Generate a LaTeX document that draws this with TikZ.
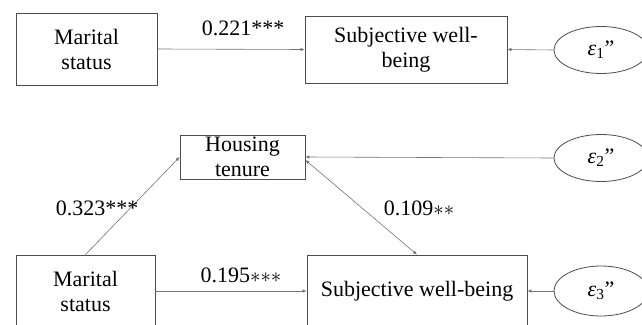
\documentclass[tikz,border=0pt]{standalone}
\usepackage{fontspec}
\setmainfont{Liberation Serif}
\usetikzlibrary{shapes.geometric,arrows.meta}

\newcommand{\errlabel}[1]{{\itshape ε}\textsubscript{#1}''}

\begin{document}
\begin{tikzpicture}[x=1pt,y=-1pt,
  var/.style={draw=black!70,line width=0.8pt,align=center,inner sep=0pt,font=\fontsize{22}{25}\selectfont},
  err/.style={draw=black!70,line width=0.8pt,ellipse,inner sep=0pt,minimum width=94,minimum height=47,font=\fontsize{22}{25}\selectfont},
  effect/.style={draw=black!55,line width=0.6pt,-{Latex[length=4pt,width=3.5pt]}},
  coef/.style={inner sep=1pt,font=\fontsize{22}{25}\selectfont}]
\useasboundingbox (0,0) rectangle (642,324);
\clip (0,0) rectangle (642,324);
% upper model
\node[var,minimum width=141,minimum height=72] (ms1) at (86.5,49) {Marital\\status};
\node[var,minimum width=202,minimum height=67] (swb1) at (406,49.5) {Subjective well-\\being};
\node[err] (e1) at (601,50) {\errlabel{1}};
\draw[effect] (ms1.east) -- (swb1.west);
\draw[effect] (e1.west) -- (swb1.east);
\node[coef] at (243,28) {0.221***};
% lower model
\node[var,minimum width=125,minimum height=44] (ht) at (242.5,157) {Housing\\tenure};
\node[var,minimum width=139,minimum height=72] (ms2) at (85.5,291) {Marital\\status};
\node[var,minimum width=220,minimum height=72] (swb2) at (417,291) {Subjective well-being};
\node[err] (e2) at (601,158) {\errlabel{2}};
\node[err,minimum height=50] (e3) at (601,291) {\errlabel{3}};
\draw[effect] (ms2.north) -- (ht.west);
\draw[effect,{Latex[length=4pt,width=3.5pt]}-{Latex[length=4pt,width=3.5pt]}] ([yshift=-3pt]ht.east) -- (swb2.north);
\draw[effect] (ms2.east) -- (swb2.west);
\draw[effect] (e2.west) -- (ht.east);
\draw[effect] (e3.west) -- (swb2.east);
\node[coef] at (97,208) {0.323***};
\node[coef] at (419,208) {0.109${\ast}{\ast}$};
\node[coef] at (241,275) {0.195${\ast}{\ast}{\ast}$};
\end{tikzpicture}
\end{document}
